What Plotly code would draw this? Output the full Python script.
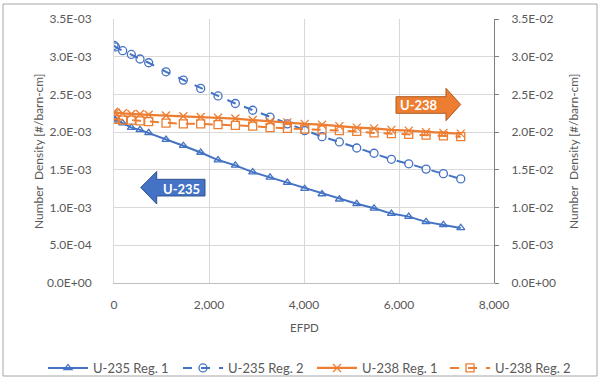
import plotly.graph_objects as go

# ---- data ----
efpd = [0, 30, 182.5, 365, 547.5, 730, 1095, 1460, 1825, 2190, 2555, 2920,
        3285, 3650, 4015, 4380, 4745, 5110, 5475, 5840, 6205, 6570, 6935, 7300]

u235_reg1 = [2.18, 2.16, 2.12, 2.06, 2.03, 1.99, 1.90, 1.82, 1.73, 1.63, 1.56, 1.47,
             1.40, 1.33, 1.25, 1.18, 1.11, 1.05, 0.99, 0.92, 0.88, 0.81, 0.77, 0.73]
u235_reg1 = [v * 1e-3 for v in u235_reg1]

u235_reg2 = [3.15, 3.13, 3.08, 3.03, 2.97, 2.92, 2.80, 2.69, 2.58, 2.48, 2.38, 2.29,
             2.20, 2.11, 2.02, 1.94, 1.87, 1.79, 1.72, 1.64, 1.58, 1.51, 1.45, 1.38]
u235_reg2 = [v * 1e-3 for v in u235_reg2]

u238_reg1 = [2.27, 2.26, 2.25, 2.24, 2.24, 2.23, 2.22, 2.21, 2.20, 2.19, 2.18, 2.16,
             2.14, 2.13, 2.11, 2.10, 2.08, 2.06, 2.05, 2.03, 2.02, 2.00, 1.99, 1.98]
u238_reg1 = [v * 1e-2 for v in u238_reg1]

u238_reg2 = [2.17, 2.17, 2.16, 2.16, 2.15, 2.14, 2.12, 2.11, 2.11, 2.10, 2.09, 2.08,
             2.06, 2.05, 2.04, 2.03, 2.02, 2.01, 1.99, 1.98, 1.97, 1.96, 1.95, 1.94]
u238_reg2 = [v * 1e-2 for v in u238_reg2]

y_ticks = [0, 0.5e-3, 1.0e-3, 1.5e-3, 2.0e-3, 2.5e-3, 3.0e-3, 3.5e-3]
y2_ticks = [0, 0.5e-2, 1.0e-2, 1.5e-2, 2.0e-2, 2.5e-2, 3.0e-2, 3.5e-2]
x_ticks = [0, 2000, 4000, 6000, 8000]

x_title = "EFPD"
y_title = "Number  Density [#/barn-cm]"

BLUE = "#4472C4"
ORANGE = "#ED7D31"
FONT = "Lato"
TXT = "#595959"

fig = go.Figure()
fig.add_trace(go.Scatter(x=efpd, y=u235_reg1, name="U-235 Reg. 1", mode="lines+markers", legend="legend",
                         line=dict(color=BLUE, width=2),
                         marker=dict(symbol="triangle-up-open", size=7, color=BLUE, line=dict(width=1.3))))
fig.add_trace(go.Scatter(x=efpd, y=u235_reg2, name="U-235 Reg. 2", mode="lines+markers", legend="legend2",
                         line=dict(color=BLUE, width=2, dash="dash"),
                         marker=dict(symbol="circle-open", size=8, color=BLUE, line=dict(width=1.3))))
fig.add_trace(go.Scatter(x=efpd, y=u238_reg1, name="U-238 Reg. 1", mode="lines+markers", yaxis="y2",
                         legend="legend3",
                         line=dict(color=ORANGE, width=2.2),
                         marker=dict(symbol="x-thin-open", size=8, color=ORANGE, line=dict(width=1.3, color=ORANGE))))
fig.add_trace(go.Scatter(x=efpd, y=u238_reg2, name="U-238 Reg. 2", mode="lines+markers", yaxis="y2",
                         legend="legend4",
                         line=dict(color=ORANGE, width=2, dash="dash"),
                         marker=dict(symbol="square-open", size=8, color=ORANGE, line=dict(width=1.3))))

L, R, T, B = 114, 107, 19, 97
W, H = 601, 380
PW, PH = W - L - R, H - T - B


def px(x):
    return (x - L) / PW


def py(y):
    return (H - B - y) / PH


shapes = []
# chart border
shapes.append(dict(type="rect", xref="paper", yref="paper",
                   x0=px(3), x1=px(597), y0=py(376), y1=py(4),
                   line=dict(color="#a6a6a6", width=1), fillcolor="rgba(0,0,0,0)"))


def path(points):
    s = "M " + " L ".join(f"{px(a):.5f},{py(b):.5f}" for a, b in points) + " Z"
    return s


# U-235 arrow (left)
blue_pts = [(140.7, 187.5), (156.7, 171.5), (156.7, 179.3), (205, 179.3),
            (205, 196), (156.7, 196), (156.7, 204)]
shapes.append(dict(type="path", xref="paper", yref="paper", path=path(blue_pts),
                   fillcolor=BLUE, line=dict(color="#2F528F", width=1)))
# U-238 arrow (right)
orange_pts = [(396, 96.7), (446, 96.7), (446, 88.3), (460.7, 104.5),
              (446, 120.7), (446, 113.3), (396, 113.3)]
shapes.append(dict(type="path", xref="paper", yref="paper", path=path(orange_pts),
                   fillcolor=ORANGE, line=dict(color="#AE5A21", width=1)))

annotations = [
    dict(text="<b>U-235</b>", xref="paper", yref="paper", x=px(181), y=py(188.5),
         xanchor="center", yanchor="middle",
         showarrow=False, font=dict(family=FONT, size=13, color="white")),
    dict(text="<b>U-238</b>", xref="paper", yref="paper", x=px(418.5), y=py(105),
         xanchor="center", yanchor="middle",
         showarrow=False, font=dict(family=FONT, size=13, color="white")),
    dict(text=x_title, xref="paper", yref="paper", x=px(304), y=py(327.5),
         xanchor="center", yanchor="middle", showarrow=False,
         font=dict(family=FONT, size=11.5, color=TXT)),
    dict(text=y_title, xref="paper", yref="paper", x=px(38), y=py(151),
         xanchor="center", yanchor="middle", showarrow=False, textangle=-90,
         font=dict(family=FONT, size=12, color=TXT)),
    dict(text=y_title, xref="paper", yref="paper", x=px(573), y=py(151),
         xanchor="center", yanchor="middle", showarrow=False, textangle=-90,
         font=dict(family=FONT, size=12, color=TXT)),
]

legend_x = [46, 181, 315, 448]


def leg(xpix):
    return dict(orientation="h", xref="container", yref="container",
                x=(xpix - 3) / W, y=1 - 368 / H, xanchor="left", yanchor="middle",
                font=dict(family=FONT, size=13, color=TXT), itemwidth=40,
                bgcolor="rgba(0,0,0,0)", borderwidth=0)


fig.update_layout(
    width=W, height=H,
    margin=dict(l=L, r=R, t=T, b=B, pad=0, autoexpand=False),
    paper_bgcolor="white", plot_bgcolor="white",
    font=dict(family=FONT, size=12, color=TXT),
    showlegend=True,
    legend=leg(legend_x[0]), legend2=leg(legend_x[1]),
    legend3=leg(legend_x[2]), legend4=leg(legend_x[3]),
    xaxis=dict(range=[0, 8000], tickvals=x_ticks, ticktext=[f"{v:,}" for v in x_ticks],
               showgrid=True, gridcolor="#d9d9d9", gridwidth=1, automargin=False,
               showline=True, linecolor="#bfbfbf", linewidth=1, zeroline=False,
               ticks="", ticklabelstandoff=11),
    yaxis=dict(range=[0, 3.5e-3], tickvals=y_ticks, ticktext=[f"{v:.1E}" for v in y_ticks],
               showgrid=True, gridcolor="#d9d9d9", gridwidth=1, automargin=False,
               showline=True, linecolor="#d9d9d9", linewidth=1, zeroline=False,
               ticks="", ticklabelstandoff=19),
    yaxis2=dict(range=[0, 3.5e-2], tickvals=y2_ticks, ticktext=[f"{v:.1E}" for v in y2_ticks],
                overlaying="y", side="right", showgrid=False, automargin=False,
                showline=True, linecolor="#7f7f7f", linewidth=1, zeroline=False,
                ticks="outside", ticklen=4, tickcolor="#7f7f7f", ticklabelstandoff=10),
    shapes=shapes,
    annotations=annotations,
)

fig.write_html("out.html")
